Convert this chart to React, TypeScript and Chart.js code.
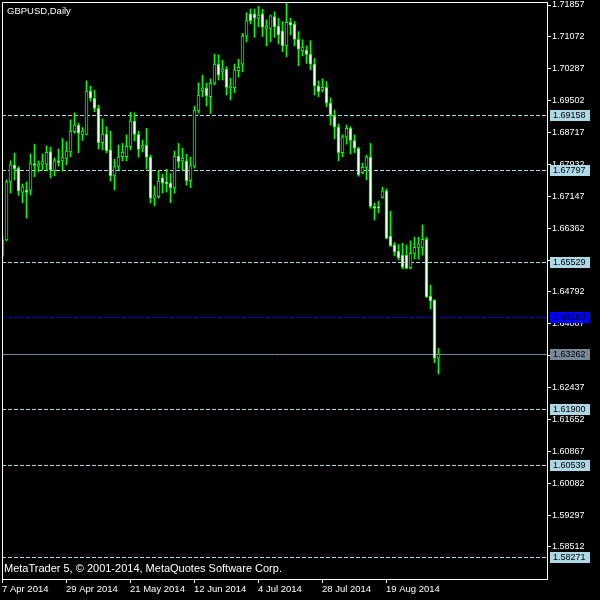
import { useEffect, useRef } from "react";
import { Chart, registerables } from "chart.js";
Chart.register(...registerables);

const symbolTitle = "GBPUSD,Daily";
const copyrightText = "MetaTrader 5, © 2001-2014, MetaQuotes Software Corp.";

const opens = [
  1.6570, 1.6607, 1.6750, 1.6792, 1.6784, 1.6725, 1.6730, 1.6729, 1.6795, 1.6788,
  1.6794, 1.6794, 1.6825, 1.6778, 1.6802, 1.6802, 1.6808, 1.6824, 1.6874, 1.6890,
  1.6867, 1.6867, 1.6974, 1.6956, 1.6931, 1.6847, 1.6868, 1.6829, 1.6765, 1.6788,
  1.6812, 1.6812, 1.6837, 1.6900, 1.6867, 1.6835, 1.6841, 1.6811, 1.6710, 1.6714,
  1.6760, 1.6750, 1.6748, 1.6735, 1.6814, 1.6802, 1.6802, 1.6753, 1.6789, 1.6925,
  1.6975, 1.6981, 1.6960, 1.6993, 1.7040, 1.7021, 1.7028, 1.6982, 1.6982, 1.7024,
  1.7040, 1.7109, 1.7164, 1.7164, 1.7153, 1.7164, 1.7128, 1.7128, 1.7157, 1.7134,
  1.7122, 1.7085, 1.7143, 1.7139, 1.7101, 1.7073, 1.7075, 1.7064, 1.7040, 1.6986,
  1.6976, 1.6983, 1.6944, 1.6912, 1.6885, 1.6822, 1.6860, 1.6882, 1.6852, 1.6833,
  1.6773, 1.6786, 1.6811, 1.6690, 1.6687, 1.6712, 1.6728, 1.6617, 1.6595, 1.6580,
  1.6570, 1.6570, 1.6539, 1.6574, 1.6589, 1.6589, 1.6609, 1.6469, 1.6459, 1.6316,
];
const highs = [
  1.6617, 1.6755, 1.6802, 1.6821, 1.6788, 1.6745, 1.6750, 1.6819, 1.6843, 1.6802,
  1.6819, 1.6839, 1.6836, 1.6809, 1.6831, 1.6857, 1.6849, 1.6903, 1.6920, 1.6895,
  1.6884, 1.6999, 1.6986, 1.6976, 1.6939, 1.6905, 1.6886, 1.6875, 1.6806, 1.6841,
  1.6845, 1.6866, 1.6922, 1.6920, 1.6875, 1.6853, 1.6882, 1.6816, 1.6740, 1.6777,
  1.6769, 1.6781, 1.6770, 1.6826, 1.6845, 1.6833, 1.6818, 1.6811, 1.6937, 1.6994,
  1.7013, 1.6993, 1.7004, 1.7065, 1.7063, 1.7050, 1.7034, 1.7005, 1.7040, 1.7052,
  1.7116, 1.7167, 1.7176, 1.7176, 1.7182, 1.7175, 1.7149, 1.7161, 1.7169, 1.7153,
  1.7145, 1.7191, 1.7153, 1.7145, 1.7120, 1.7100, 1.7085, 1.7098, 1.7054, 1.6999,
  1.7004, 1.6997, 1.6957, 1.6927, 1.6893, 1.6866, 1.6890, 1.6886, 1.6866, 1.6835,
  1.6796, 1.6816, 1.6845, 1.6698, 1.6703, 1.6737, 1.6733, 1.6678, 1.6601, 1.6596,
  1.6599, 1.6595, 1.6605, 1.6614, 1.6614, 1.6644, 1.6614, 1.6496, 1.6460, 1.6340,
];
const lows = [
  1.6563, 1.6605, 1.6723, 1.6755, 1.6717, 1.6699, 1.6661, 1.6718, 1.6763, 1.6775,
  1.6779, 1.6779, 1.6760, 1.6765, 1.6789, 1.6777, 1.6792, 1.6812, 1.6870, 1.6822,
  1.6852, 1.6866, 1.6949, 1.6923, 1.6831, 1.6829, 1.6822, 1.6752, 1.6730, 1.6779,
  1.6802, 1.6802, 1.6829, 1.6851, 1.6811, 1.6824, 1.6782, 1.6698, 1.6691, 1.6710,
  1.6723, 1.6725, 1.6699, 1.6722, 1.6784, 1.6779, 1.6742, 1.6736, 1.6784, 1.6919,
  1.6960, 1.6937, 1.6919, 1.6989, 1.7001, 1.7001, 1.6964, 1.6952, 1.6970, 1.7008,
  1.7021, 1.7095, 1.7139, 1.7106, 1.7132, 1.7108, 1.7085, 1.7095, 1.7106, 1.7090,
  1.7071, 1.7058, 1.7112, 1.7085, 1.7036, 1.7060, 1.7042, 1.7026, 1.6964, 1.6960,
  1.6972, 1.6935, 1.6890, 1.6856, 1.6802, 1.6812, 1.6843, 1.6819, 1.6822, 1.6764,
  1.6770, 1.6755, 1.6685, 1.6656, 1.6674, 1.6710, 1.6610, 1.6591, 1.6568, 1.6558,
  1.6536, 1.6536, 1.6536, 1.6560, 1.6560, 1.6570, 1.6465, 1.6437, 1.6305, 1.6277,
];
const closes = [
  1.6607, 1.6750, 1.6792, 1.6782, 1.6728, 1.6738, 1.6724, 1.6795, 1.6791, 1.6794,
  1.6800, 1.6823, 1.6779, 1.6802, 1.6798, 1.6810, 1.6826, 1.6875, 1.6890, 1.6870,
  1.6875, 1.6974, 1.6956, 1.6931, 1.6847, 1.6868, 1.6827, 1.6765, 1.6788, 1.6811,
  1.6823, 1.6838, 1.6900, 1.6867, 1.6830, 1.6841, 1.6811, 1.6710, 1.6718, 1.6752,
  1.6747, 1.6745, 1.6736, 1.6814, 1.6800, 1.6808, 1.6753, 1.6790, 1.6927, 1.6964,
  1.6981, 1.6962, 1.6993, 1.7040, 1.7013, 1.7028, 1.6983, 1.6986, 1.7026, 1.7032,
  1.7109, 1.7147, 1.7147, 1.7153, 1.7161, 1.7131, 1.7134, 1.7159, 1.7132, 1.7112,
  1.7085, 1.7143, 1.7136, 1.7101, 1.7077, 1.7082, 1.7064, 1.7040, 1.6987, 1.6972,
  1.6983, 1.6944, 1.6915, 1.6885, 1.6822, 1.6861, 1.6882, 1.6852, 1.6833, 1.6767,
  1.6786, 1.6811, 1.6690, 1.6685, 1.6686, 1.6728, 1.6611, 1.6593, 1.6578, 1.6563,
  1.6540, 1.6537, 1.6574, 1.6589, 1.6597, 1.6609, 1.6467, 1.6457, 1.6316, 1.6326,
];

const dateTickIndexes = [0, 16, 32, 48, 64, 80, 96];
const dateTickLabels = ["7 Apr 2014", "29 Apr 2014", "21 May 2014", "12 Jun 2014", "4 Jul 2014", "28 Jul 2014", "19 Aug 2014"];

const priceTicks = [
  1.71857, 1.71072, 1.70287, 1.69502, 1.68717, 1.67932, 1.67147, 1.66362, 1.65577,
  1.64792, 1.64007, 1.63222, 1.62437, 1.61652, 1.60867, 1.60082, 1.59297, 1.58512,
];
const priceMin = 1.57723;
const priceMax = 1.71931;

const levelPrices = [1.69158, 1.67797, 1.65529, 1.619, 1.60539, 1.58271];
const markerPrice = 1.64168;
const bidPrice = 1.63262;

const AXIS_FONT = "Liberation Sans";

export default function App() {
  const ref = useRef<HTMLCanvasElement>(null);
  useEffect(() => {
    const canvas = ref.current;
    if (!canvas) return;

    const drawLabel = (ctx: CanvasRenderingContext2D, x: number, y: number, text: string, bg: string, fg: string) => {
      const yy = Math.round(y);
      ctx.fillStyle = bg;
      ctx.fillRect(x, yy - 5, 40, 11);
      ctx.fillStyle = fg;
      ctx.font = `9px "${AXIS_FONT}"`;
      ctx.textBaseline = "middle";
      ctx.textAlign = "left";
      ctx.fillText(text, x + 3, yy + 0.5);
    };

    const mtPlugin = {
      id: "mtDecor",
      beforeDatasetsDraw(chart: any) {
        const { ctx, chartArea } = chart;
        const ys = chart.scales.y;
        ctx.save();
        ctx.lineWidth = 1;
        ctx.setLineDash([4, 2]);
        ctx.strokeStyle = "#add8e6";
        for (const p of levelPrices) {
          const y = Math.round(ys.getPixelForValue(p)) + 0.5;
          ctx.beginPath();
          ctx.moveTo(chartArea.left, y);
          ctx.lineTo(chartArea.right, y);
          ctx.stroke();
        }
        ctx.strokeStyle = "#0000ff";
        const ym = Math.round(ys.getPixelForValue(markerPrice)) + 0.5;
        ctx.beginPath();
        ctx.moveTo(chartArea.left, ym);
        ctx.lineTo(chartArea.right, ym);
        ctx.stroke();
        ctx.setLineDash([]);
        ctx.strokeStyle = "#778899";
        const yb = Math.round(ys.getPixelForValue(bidPrice)) + 0.5;
        ctx.beginPath();
        ctx.moveTo(chartArea.left, yb);
        ctx.lineTo(chartArea.right, yb);
        ctx.stroke();
        ctx.restore();
      },
      afterDraw(chart: any) {
        const { ctx, chartArea } = chart;
        const ys = chart.scales.y;
        ctx.save();
        ctx.strokeStyle = "#ffffff";
        ctx.lineWidth = 1;
        ctx.beginPath();
        ctx.moveTo(chartArea.left + 0.5, chartArea.bottom);
        ctx.lineTo(chartArea.left + 0.5, chartArea.top + 0.5);
        ctx.lineTo(chartArea.right, chartArea.top + 0.5);
        ctx.stroke();
        const lx = chartArea.right + 3;
        for (const p of levelPrices) drawLabel(ctx, lx, ys.getPixelForValue(p), p.toFixed(5), "#add8e6", "#000000");
        drawLabel(ctx, lx, ys.getPixelForValue(markerPrice), markerPrice.toFixed(5), "#0000ff", "#000000");
        drawLabel(ctx, lx, ys.getPixelForValue(bidPrice), bidPrice.toFixed(5), "#778899", "#000000");
        ctx.fillStyle = "#ffffff";
        ctx.textAlign = "left";
        ctx.textBaseline = "alphabetic";
        ctx.font = `9.5px "${AXIS_FONT}"`;
        ctx.fillText(symbolTitle, 7, 14);
        ctx.font = `11px "${AXIS_FONT}"`;
        ctx.fillText(copyrightText, 4, 572);
        ctx.restore();
      },
    };

    const chart = new Chart(canvas, {
      type: "bar",
      data: {
        datasets: [
          {
            label: "body",
            data: opens.map((o, i) => ({ x: i, y: [o, closes[i]] })) as any,
            backgroundColor: (c: any) => (closes[c.dataIndex] < opens[c.dataIndex] ? "#ffffff" : "#000000"),
            borderColor: "#00ff00",
            borderWidth: 1,
            borderSkipped: false,
            barThickness: 3,
            grouped: false,
            minBarLength: 1,
            order: 0,
          } as any,
          {
            label: "wick",
            data: lows.map((l, i) => ({ x: i, y: [l, highs[i]] })) as any,
            backgroundColor: "#00ff00",
            borderWidth: 0,
            barThickness: 1,
            grouped: false,
            order: 1,
          } as any,
        ],
      },
      options: {
        responsive: false,
        animation: false,
        events: [],
        layout: { padding: { left: 2, top: 2, right: 0, bottom: 0 } },
        plugins: { legend: { display: false }, tooltip: { enabled: false }, title: { display: false } },
        scales: {
          x: {
            type: "linear",
            offset: false,
            min: -0.125,
            max: 136.125,
            afterBuildTicks: (s: any) => {
              s.ticks = dateTickIndexes.map((i) => ({ value: i - 0.125 }));
            },
            afterFit: (s: any) => {
              s.height = 21;
              s.paddingLeft = 0;
              s.paddingRight = 0;
            },
            ticks: {
              autoSkip: false,
              maxRotation: 0,
              minRotation: 0,
              align: "start",
              padding: 1,
              color: "#ffffff",
              font: { family: AXIS_FONT, size: 9.5 },
              callback: (_v: any, idx: number) => dateTickLabels[idx] ?? "",
            },
            grid: { offset: false, drawOnChartArea: false, drawTicks: true, tickLength: 4, color: "#ffffff", tickColor: "#ffffff" },
            border: { display: true, color: "#ffffff", width: 1 },
          },
          y: {
            type: "linear",
            position: "right",
            min: priceMin,
            max: priceMax,
            afterBuildTicks: (s: any) => {
              s.ticks = priceTicks.map((v) => ({ value: v }));
            },
            afterFit: (s: any) => {
              s.width = 53;
              s.paddingTop = 0;
              s.paddingBottom = 0;
            },
            ticks: {
              autoSkip: false,
              padding: 1,
              color: "#ffffff",
              font: { family: AXIS_FONT, size: 9 },
              callback: (v: any) => Number(v).toFixed(5),
            },
            grid: { drawOnChartArea: false, drawTicks: true, tickLength: 4, color: "#ffffff", tickColor: "#ffffff" },
            border: { display: true, color: "#ffffff", width: 1 },
          },
        },
      } as any,
      plugins: [mtPlugin],
    });
    return () => chart.destroy();
  }, []);

  return (
    <div style={{ position: "fixed", left: 0, top: 0, width: 600, height: 600, background: "#000000" }}>
      <canvas ref={ref} width={600} height={600} style={{ display: "block", width: 600, height: 600 }} />
    </div>
  );
}
